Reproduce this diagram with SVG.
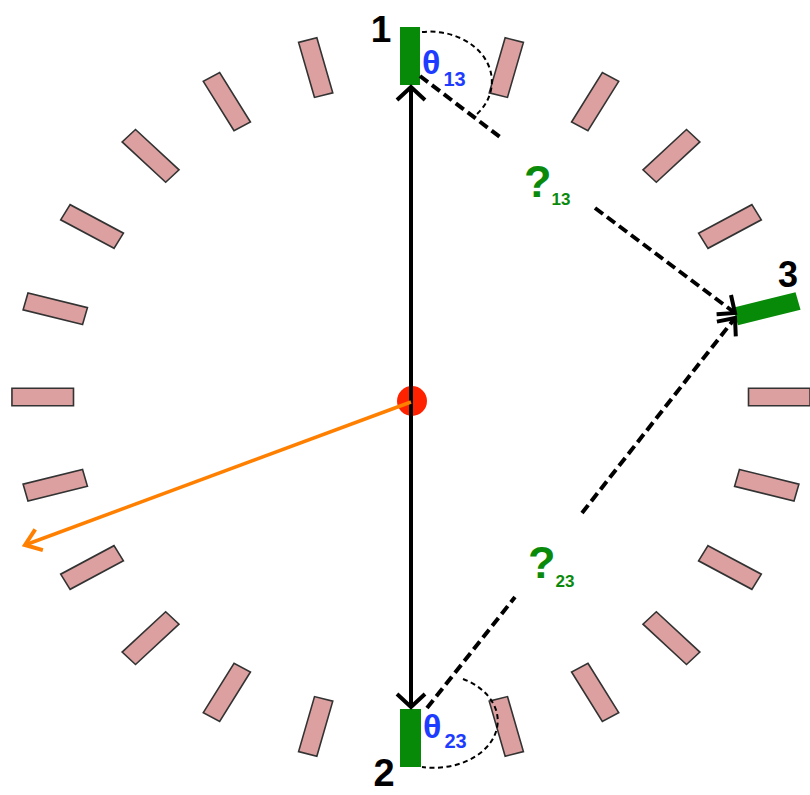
<svg xmlns="http://www.w3.org/2000/svg" width="810" height="795" viewBox="0 0 810 795">
<style>
.blk{fill:#dca0a0;stroke:#333;stroke-width:1.6;vector-effect:non-scaling-stroke}
.grn{fill:#078a07}
.lbl{font-family:"Liberation Sans",Arial,sans-serif;font-weight:bold}
.dash{stroke:#000;stroke-width:4;stroke-dasharray:10 5;fill:none}
.arc{stroke:#000;stroke-width:2;stroke-dasharray:5 3.5;fill:none}
</style>
<defs>
<marker id="ab" markerUnits="userSpaceOnUse" viewBox="-20 -20 40 40" markerWidth="40" markerHeight="40" refX="0" refY="0" orient="auto-start-reverse">
<path d="M-13,-14 L0,0 L-13,14" fill="none" stroke="#000" stroke-width="4" stroke-dasharray="none"/>
</marker>
<marker id="ad" markerUnits="userSpaceOnUse" viewBox="-20 -20 40 40" markerWidth="40" markerHeight="40" refX="0" refY="0" orient="auto">
<path d="M-14,-12 L0,0 L-14,12" fill="none" stroke="#000" stroke-width="4" stroke-dasharray="none"/>
</marker>
<marker id="ao" markerUnits="userSpaceOnUse" viewBox="-20 -20 40 40" markerWidth="40" markerHeight="40" refX="0" refY="0" orient="auto">
<path d="M-15,-11 L0,0 L-15,11" fill="none" stroke="#ff8000" stroke-width="4"/>
</marker>
</defs>
<rect width="810" height="795" fill="#fff"/>
<g id="ring" transform="translate(411,397) scale(1.08,1)">
<rect class="blk" x="-28.5" y="-8.75" width="57" height="17.5" transform="rotate(0) translate(341 0)"/>
<rect class="blk" x="-28.5" y="-8.75" width="57" height="17.5" transform="rotate(-30) translate(341 0)"/>
<rect class="blk" x="-28.5" y="-8.75" width="57" height="17.5" transform="rotate(-45) translate(341 0)"/>
<rect class="blk" x="-28.5" y="-8.75" width="57" height="17.5" transform="rotate(-60) translate(341 0)"/>
<rect class="blk" x="-28.5" y="-8.75" width="57" height="17.5" transform="rotate(-75) translate(341 0)"/>
<rect class="blk" x="-28.5" y="-8.75" width="57" height="17.5" transform="rotate(-105) translate(341 0)"/>
<rect class="blk" x="-28.5" y="-8.75" width="57" height="17.5" transform="rotate(-120) translate(341 0)"/>
<rect class="blk" x="-28.5" y="-8.75" width="57" height="17.5" transform="rotate(-135) translate(341 0)"/>
<rect class="blk" x="-28.5" y="-8.75" width="57" height="17.5" transform="rotate(-150) translate(341 0)"/>
<rect class="blk" x="-28.5" y="-8.75" width="57" height="17.5" transform="rotate(-165) translate(341 0)"/>
<rect class="blk" x="-28.5" y="-8.75" width="57" height="17.5" transform="rotate(-180) translate(341 0)"/>
<rect class="blk" x="-28.5" y="-8.75" width="57" height="17.5" transform="rotate(-195) translate(341 0)"/>
<rect class="blk" x="-28.5" y="-8.75" width="57" height="17.5" transform="rotate(-210) translate(341 0)"/>
<rect class="blk" x="-28.5" y="-8.75" width="57" height="17.5" transform="rotate(-225) translate(341 0)"/>
<rect class="blk" x="-28.5" y="-8.75" width="57" height="17.5" transform="rotate(-240) translate(341 0)"/>
<rect class="blk" x="-28.5" y="-8.75" width="57" height="17.5" transform="rotate(-255) translate(341 0)"/>
<rect class="blk" x="-28.5" y="-8.75" width="57" height="17.5" transform="rotate(-285) translate(341 0)"/>
<rect class="blk" x="-28.5" y="-8.75" width="57" height="17.5" transform="rotate(-300) translate(341 0)"/>
<rect class="blk" x="-28.5" y="-8.75" width="57" height="17.5" transform="rotate(-315) translate(341 0)"/>
<rect class="blk" x="-28.5" y="-8.75" width="57" height="17.5" transform="rotate(-330) translate(341 0)"/>
<rect class="blk" x="-28.5" y="-8.75" width="57" height="17.5" transform="rotate(-345) translate(341 0)"/>
</g>
<g id="det1">
<rect class="grn" x="400" y="27" width="20" height="58"/>
<text class="lbl" x="381" y="42" font-size="37" text-anchor="middle" fill="#000">1</text>
</g>
<g id="det2">
<rect class="grn" x="400" y="709" width="21" height="58"/>
<text class="lbl" x="384" y="786" font-size="38" text-anchor="middle" fill="#000">2</text>
</g>
<g id="det3">
<g transform="translate(411,397) scale(1.08,1)">
<rect class="grn" x="-30" y="-9" width="60" height="18" transform="rotate(-15) translate(341 0)"/>
</g>
<text class="lbl" x="788" y="287" font-size="36" text-anchor="middle" fill="#000">3</text>
</g>
<g id="source">
<circle cx="412" cy="401" r="15" fill="#ff2200"/>
</g>
<g id="connectors">
<line x1="411" y1="87" x2="411" y2="707" stroke="#000" stroke-width="4" marker-start="url(#ab)" marker-end="url(#ab)"/>
<line x1="411" y1="402" x2="25" y2="545" stroke="#ff8000" stroke-width="3.5" marker-end="url(#ao)"/>
<line class="dash" x1="420" y1="76" x2="500" y2="137"/>
<line class="dash" x1="595" y1="208" x2="735" y2="313" marker-end="url(#ad)"/>
<line class="dash" x1="427" y1="708" x2="515" y2="597"/>
<line class="dash" x1="582" y1="513" x2="735" y2="318" marker-end="url(#ad)"/>
<path class="arc" d="M422,32 A62,50 0 0 1 476,115"/>
<path class="arc" d="M463,679 A64,47 0 0 1 422,767"/>
</g>
<g id="labels">
<text class="lbl" x="422" y="74" font-size="34" fill="#1e3cff">θ<tspan font-size="20" dx="3" dy="12">13</tspan></text>
<text class="lbl" x="423" y="738" font-size="34" fill="#1e3cff">θ<tspan font-size="20" dx="3" dy="10">23</tspan></text>
<text class="lbl" x="524" y="197" font-size="45" fill="#0a8a0a">?<tspan font-size="17" dy="8">13</tspan></text>
<text class="lbl" x="528" y="578" font-size="45" fill="#0a8a0a">?<tspan font-size="17" dy="9">23</tspan></text>
</g>
</svg>
